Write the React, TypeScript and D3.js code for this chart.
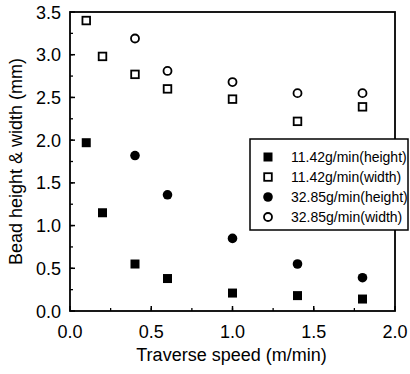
import React from "react";
import * as d3 from "d3";

// speeds (m/min) and measured bead sizes (mm)
const speedsLow = [0.1, 0.2, 0.4, 0.6, 1.0, 1.4, 1.8];
const heightLow = [1.97, 1.15, 0.55, 0.38, 0.21, 0.18, 0.14];
const widthLow = [3.4, 2.98, 2.77, 2.6, 2.48, 2.22, 2.39];

const speedsHigh = [0.4, 0.6, 1.0, 1.4, 1.8];
const heightHigh = [1.82, 1.36, 0.85, 0.55, 0.39];
const widthHigh = [3.19, 2.81, 2.68, 2.55, 2.55];

const xTicks = [0, 0.5, 1.0, 1.5, 2.0];
const yTicks = [0, 0.5, 1.0, 1.5, 2.0, 2.5, 3.0, 3.5];

const legendLabels = [
  "11.42g/min(height)",
  "11.42g/min(width)",
  "32.85g/min(height)",
  "32.85g/min(width)",
];

const W = 410;
const H = 374;
const left = 70;
const right = 395;
const top = 12;
const bottom = 311;
const font = "'Liberation Sans', Arial, sans-serif";

const Marker = ({ kind, cx, cy }: { kind: number; cx: number; cy: number }) => {
  if (kind === 0)
    return <rect x={cx - 4.5} y={cy - 4.5} width={9} height={9} fill="#000" />;
  if (kind === 1)
    return (
      <rect x={cx - 3.8} y={cy - 3.8} width={7.6} height={7.6} fill="#fff" stroke="#000" strokeWidth={1.8} />
    );
  if (kind === 2) return <circle cx={cx} cy={cy} r={4.8} fill="#000" />;
  return <circle cx={cx} cy={cy} r={4} fill="#fff" stroke="#000" strokeWidth={1.8} />;
};

export default function App() {
  const x = d3.scaleLinear().domain([0, 2]).range([left, right]);
  const y = d3.scaleLinear().domain([0, 3.5]).range([bottom, top]);

  const xMinor = d3.range(0.25, 2, 0.25);
  const yMinor = d3.range(0.25, 3.5, 0.25);

  const series = [
    { kind: 0, xs: speedsLow, ys: heightLow },
    { kind: 1, xs: speedsLow, ys: widthLow },
    { kind: 2, xs: speedsHigh, ys: heightHigh },
    { kind: 3, xs: speedsHigh, ys: widthHigh },
  ];

  return (
    <svg
      width={W}
      height={H}
      style={{ position: "absolute", left: 0, top: 0, background: "#fff" }}
      fontFamily={font}
    >
      {/* frame */}
      <rect x={left} y={top} width={right - left} height={bottom - top} fill="none" stroke="#000" strokeWidth={1.8} />

      {/* x ticks (inward) */}
      {xMinor.map((t) => (
        <line key={"xm" + t} x1={x(t)} x2={x(t)} y1={bottom} y2={bottom - 3} stroke="#000" strokeWidth={1.3} />
      ))}
      {xTicks.map((t) => (
        <g key={"x" + t}>
          <line x1={x(t)} x2={x(t)} y1={bottom} y2={bottom - 5} stroke="#000" strokeWidth={1.5} />
          <text x={x(t)} y={338} textAnchor="middle" fontSize={18}>
            {t.toFixed(1)}
          </text>
        </g>
      ))}

      {/* y ticks (inward) */}
      {yMinor.map((t) => (
        <line key={"ym" + t} x1={left} x2={left + 3} y1={y(t)} y2={y(t)} stroke="#000" strokeWidth={1.3} />
      ))}
      {yTicks.map((t) => (
        <g key={"y" + t}>
          <line x1={left} x2={left + 5} y1={y(t)} y2={y(t)} stroke="#000" strokeWidth={1.5} />
          <text x={61} y={y(t) + 6.5} textAnchor="end" fontSize={18}>
            {t.toFixed(1)}
          </text>
        </g>
      ))}

      {/* axis titles */}
      <text x={(left + right) / 2 - 1} y={361} textAnchor="middle" fontSize={18}>
        Traverse speed (m/min)
      </text>
      <text transform={`translate(22,${(top + bottom) / 2}) rotate(-90)`} textAnchor="middle" fontSize={18}>
        Bead height &amp; width (mm)
      </text>

      {/* points */}
      {series.map((s) =>
        s.xs.map((v, i) => <Marker key={s.kind + "-" + i} kind={s.kind} cx={x(v)} cy={y(s.ys[i])} />)
      )}

      {/* legend */}
      <rect x={250} y={139} width={158} height={91} fill="#fff" stroke="#000" strokeWidth={1.5} />
      {legendLabels.map((l, i) => (
        <g key={l}>
          <Marker kind={i} cx={268} cy={157 + i * 20} />
          <text x={291} y={157 + i * 20 + 5} fontSize={14}>
            {l}
          </text>
        </g>
      ))}
    </svg>
  );
}
